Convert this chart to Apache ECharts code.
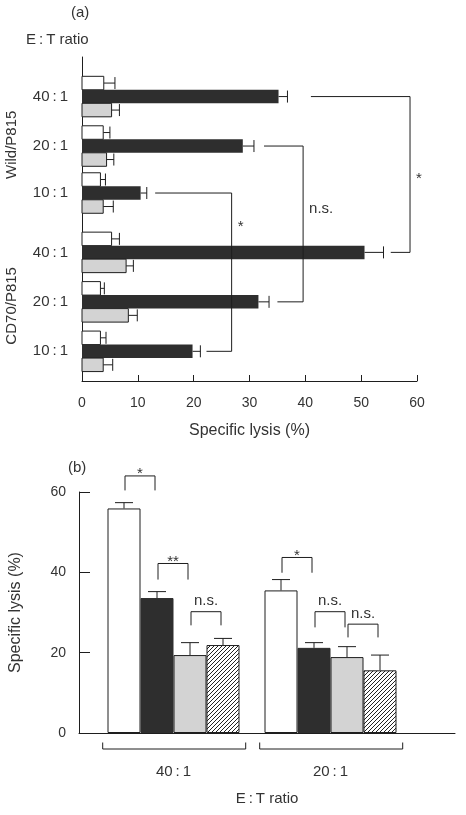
<!DOCTYPE html>
<html><head><meta charset="utf-8">
<script src="https://cdn.jsdelivr.net/npm/echarts@6/dist/echarts.min.js"></script>
<style>html,body{margin:0;padding:0;background:#fff}#c{width:466px;height:815px}</style>
</head><body><div id="c"></div>
<script>
// ---------- Panel (a) data ----------
const rowLabelsA = ['40\u2009:\u20091','20\u2009:\u20091','10\u2009:\u20091','40\u2009:\u20091','20\u2009:\u20091','10\u2009:\u20091'];
const groupNamesA = ['Wild/P815','CD70/P815'];
const whiteA    = [3.9, 3.8, 3.3, 5.3, 3.3, 3.3];
const whiteErrA = [2.0, 1.2, 0.9, 1.4, 0.7, 1.0];
const blackA    = [35.2, 28.8, 10.5, 50.6, 31.6, 19.8];
const blackErrA = [1.6, 2.0, 1.1, 3.4, 1.9, 1.4];
const grayA     = [5.3, 4.4, 3.8, 7.9, 8.3, 3.8];
const grayErrA  = [1.4, 1.3, 1.8, 1.3, 1.6, 1.7];
const xTicksA   = [0, 10, 20, 30, 40, 50, 60];
// significance comparisons in (a): [rowA, rowB], labels
const sigRowsA  = [[0, 3], [1, 4], [2, 5]];
const sigLabelsA = ['*', 'n.s.', '*'];

// ---------- Panel (b) data ----------
const catsB      = ['40\u2009:\u20091', '20\u2009:\u20091'];
const whiteB     = [55.9, 35.5];
const whiteErrB  = [1.45, 2.7];
const blackB     = [33.6, 21.2];
const blackErrB  = [1.6, 1.3];
const grayB      = [19.4, 18.9];
const grayErrB   = [3.1, 2.6];
const hatchB     = [21.9, 15.6];
const hatchErrB  = [1.65, 3.8];
const yTicksB    = [0, 20, 40, 60];
// significance comparisons in (b): [category, barA, barB, label]
const sigB = [[0,0,1,'*'],[0,1,2,'**'],[0,2,3,'n.s.'],[1,0,1,'*'],[1,1,2,'n.s.'],[1,2,3,'n.s.']];

// ---------- layout (not data) ----------
const rowPosA = [0.8, 1.8, 2.75, 3.95, 4.95, 5.95];
const sigLayoutA = [ // [startA, startB, verticalX, labelRow]
  [41.0, 55.3, 58.75, 2.385],
  [32.6, 35.0, 39.6, 3.07],
  [13.1, 22.3, 26.8, 3.35]
];
const sigLayoutB = [ // [top, legBottom]
  [64.0, 60.4],[42.2, 38.2],[30.2, 26.8],[43.7, 39.9],[30.2, 26.3],[27.1, 23.8]
];
const FONT = "'Liberation Sans', Arial, Helvetica, sans-serif";
const TXT = '#333';
const LINE = '#1e1e1e';
const BLACK = '#2e2e2e';
const GRAY = '#d3d3d3';
const BAR_H_A = 13.5;
const BAR_W_B = 33;

// hatch pattern
const hc = document.createElement('canvas'); hc.width = 4; hc.height = 4;
const g = hc.getContext('2d'); g.strokeStyle = '#222'; g.lineWidth = 1;
g.beginPath(); g.moveTo(-1,5); g.lineTo(5,-1); g.moveTo(-1,1); g.lineTo(1,-1); g.moveTo(3,5); g.lineTo(5,3); g.stroke();
const hatchFill = { image: hc, repeat: 'repeat' };

function barsA(vals, errs, offset, fill, stroke) {
  return {
    type: 'custom', xAxisIndex: 0, yAxisIndex: 0, clip: false,
    data: vals.map((v, i) => [v, rowPosA[i], errs[i]]),
    encode: { x: 0, y: 1 },
    renderItem: (params, api) => {
      const v = api.value(0), r = api.value(1), e = api.value(2);
      const p0 = api.coord([0, r]), p1 = api.coord([v, r]), p2 = api.coord([v + e, r]);
      const cy = p0[1] + offset;
      const h = BAR_H_A;
      return { type: 'group', children: [
        { type: 'line', shape: { x1: p1[0], y1: cy, x2: p2[0], y2: cy }, style: { stroke: LINE, lineWidth: 1 } },
        { type: 'line', shape: { x1: p2[0], y1: cy - 6, x2: p2[0], y2: cy + 6 }, style: { stroke: LINE, lineWidth: 1 } },
        { type: 'rect', shape: { x: p0[0], y: cy - h / 2, width: p1[0] - p0[0], height: h },
          style: { fill: fill, stroke: stroke || null, lineWidth: stroke ? 1 : 0 } }
      ]};
    }
  };
}

const series = [
  barsA(whiteA, whiteErrA, -BAR_H_A, '#fff', LINE),
  barsA(blackA, blackErrA, 0, BLACK, null),
  barsA(grayA, grayErrA, BAR_H_A, GRAY, LINE),
  // row labels
  {
    type: 'custom', xAxisIndex: 0, yAxisIndex: 0, clip: false,
    data: rowLabelsA.map((l, i) => [0, rowPosA[i]]),
    encode: { x: 0, y: 1 },
    renderItem: (params, api) => {
      const p = api.coord([0, api.value(1)]);
      return { type: 'text', x: p[0] - 14, y: p[1],
        style: { text: rowLabelsA[params.dataIndex], fontFamily: FONT, fontSize: 15, fill: TXT, align: 'right', verticalAlign: 'middle' } };
    }
  },
  // group labels
  {
    type: 'custom', xAxisIndex: 0, yAxisIndex: 0, clip: false,
    data: groupNamesA.map((n, i) => [0, (rowPosA[i * 3] + rowPosA[i * 3 + 2]) / 2]),
    encode: { x: 0, y: 1 },
    renderItem: (params, api) => {
      const p = api.coord([0, api.value(1)]);
      return { type: 'text', x: 12, y: p[1] + (params.dataIndex ? 4 : 0), rotation: Math.PI / 2,
        style: { text: groupNamesA[params.dataIndex], fontFamily: FONT, fontSize: 15, fill: TXT, align: 'center', verticalAlign: 'middle' } };
    }
  },
  // significance brackets (a)
  {
    type: 'custom', xAxisIndex: 0, yAxisIndex: 0, clip: false,
    data: sigRowsA.map((rr, i) => [sigLayoutA[i][0], rowPosA[rr[0]], sigLayoutA[i][1], rowPosA[rr[1]], sigLayoutA[i][2], sigLayoutA[i][3]]),
    encode: { x: 0, y: 1 },
    renderItem: (params, api) => {
      const a = api.coord([api.value(0), api.value(1)]);
      const b = api.coord([api.value(2), api.value(3)]);
      const vx = api.coord([api.value(4), 0])[0];
      const ly = api.coord([0, api.value(5)])[1];
      const lab = sigLabelsA[params.dataIndex];
      return { type: 'group', children: [
        { type: 'polyline', shape: { points: [[a[0], a[1]], [vx, a[1]], [vx, b[1]], [b[0], b[1]]] }, style: { stroke: LINE, lineWidth: 1, fill: null } },
        { type: 'text', x: vx + 6, y: ly + (lab === '*' ? 4 : 0),
          style: { text: lab, fontFamily: FONT, fontSize: 15, fill: TXT, align: 'left', verticalAlign: 'middle' } }
      ]};
    }
  },
  // ---------- panel (b) bars ----------
  { type: 'bar', name: 'white', xAxisIndex: 2, yAxisIndex: 2, data: whiteB, barWidth: BAR_W_B, barGap: '0%',
    itemStyle: { color: '#fff', borderColor: LINE, borderWidth: 1 } },
  { type: 'bar', name: 'black', xAxisIndex: 2, yAxisIndex: 2, data: blackB, barWidth: BAR_W_B, barGap: '0%',
    itemStyle: { color: BLACK, borderColor: BLACK, borderWidth: 1 } },
  { type: 'bar', name: 'gray', xAxisIndex: 2, yAxisIndex: 2, data: grayB, barWidth: BAR_W_B, barGap: '0%',
    itemStyle: { color: GRAY, borderColor: LINE, borderWidth: 1 } },
  { type: 'bar', name: 'hatched', xAxisIndex: 2, yAxisIndex: 2, data: hatchB, barWidth: BAR_W_B, barGap: '0%',
    itemStyle: { color: hatchFill, borderColor: LINE, borderWidth: 1 } },
  // error bars (b)
  {
    type: 'custom', xAxisIndex: 2, yAxisIndex: 2, clip: false, z: 1,
    data: (function () {
      const out = [];
      [[whiteB, whiteErrB], [blackB, blackErrB], [grayB, grayErrB], [hatchB, hatchErrB]].forEach((pair, s) => {
        pair[0].forEach((v, c) => out.push([c, v, pair[1][c], s]));
      });
      return out;
    })(),
    encode: { x: 0, y: 1 },
    renderItem: (params, api) => {
      const c = api.value(0), v = api.value(1), e = api.value(2), s = api.value(3);
      const p1 = api.coord([c, v]), p2 = api.coord([c, v + e]);
      const x = p1[0] + (s - 1.5) * BAR_W_B;
      return { type: 'group', children: [
        { type: 'line', shape: { x1: x, y1: p1[1], x2: x, y2: p2[1] }, style: { stroke: LINE, lineWidth: 1 } },
        { type: 'line', shape: { x1: x - 9, y1: p2[1], x2: x + 9, y2: p2[1] }, style: { stroke: LINE, lineWidth: 1 } }
      ]};
    }
  },
  // significance brackets (b)
  {
    type: 'custom', xAxisIndex: 2, yAxisIndex: 2, clip: false,
    data: sigB.map((d, i) => [d[0], d[1], d[2], sigLayoutB[i][0], sigLayoutB[i][1]]),
    encode: { x: 0, y: 3 },
    renderItem: (params, api) => {
      const c = api.value(0), a = api.value(1), b = api.value(2);
      const top = api.coord([c, api.value(3)]), leg = api.coord([c, api.value(4)]);
      const xa = top[0] + (a - 1.5) * BAR_W_B + 1;
      const xb = top[0] + (b - 1.5) * BAR_W_B - 2;
      const lab = sigB[params.dataIndex][3];
      const star = lab.indexOf('*') >= 0;
      return { type: 'group', children: [
        { type: 'polyline', shape: { points: [[xa, leg[1]], [xa, top[1]], [xb, top[1]], [xb, leg[1]]] }, style: { stroke: LINE, lineWidth: 1, fill: null } },
        { type: 'text', x: (xa + xb) / 2, y: top[1] - (star ? 2 : 3),
          style: { text: lab, fontFamily: FONT, fontSize: 15, fill: TXT, align: 'center', verticalAlign: star ? 'middle' : 'bottom' } }
      ]};
    }
  },
  // group brackets under x axis (b)
  {
    type: 'custom', xAxisIndex: 2, yAxisIndex: 2, clip: false,
    data: catsB.map((c, i) => [i, 0]),
    encode: { x: 0, y: 1 },
    renderItem: (params, api) => {
      const p = api.coord([api.value(0), 0]);
      const cx = p[0] + 0.7, y0 = p[1] + 9.5, y1 = p[1] + 16;
      return { type: 'polyline', shape: { points: [[cx - 71.5, y0], [cx - 71.5, y1], [cx + 71.5, y1], [cx + 71.5, y0]] },
        style: { stroke: LINE, lineWidth: 1, fill: null } };
    }
  }
];

const chart = echarts.init(document.getElementById('c'), null, { renderer: 'canvas' });
chart.setOption({
  animation: false,
  backgroundColor: '#fff',
  textStyle: { fontFamily: FONT, color: TXT },
  grid: [
    { left: 82, top: 57, width: 335, height: 324 },
    { left: 75, right: 11, top: 492, bottom: 82 },
    { left: 95, width: 314, top: 492, bottom: 82 }
  ],
  xAxis: [
    { gridIndex: 0, type: 'value', position: 'bottom', min: xTicksA[0], max: xTicksA[xTicksA.length - 1], interval: xTicksA[1] - xTicksA[0],
      axisLine: { show: true, onZero: false, lineStyle: { color: LINE, width: 1 } },
      axisTick: { show: true, inside: true, length: 6, lineStyle: { color: LINE } },
      axisLabel: { fontSize: 14, color: TXT, margin: 15, fontFamily: FONT },
      splitLine: { show: false },
      name: 'Specific lysis (%)', nameLocation: 'middle', nameGap: 42,
      nameTextStyle: { fontSize: 16, color: TXT, fontFamily: FONT } },
    { gridIndex: 1, type: 'value', position: 'bottom', min: 0, max: 1,
      axisLine: { show: true, onZero: false, lineStyle: { color: LINE, width: 1 } },
      axisTick: { show: false }, axisLabel: { show: false }, splitLine: { show: false },
      name: 'E\u2009:\u2009T ratio', nameLocation: 'middle', nameGap: 58,
      nameTextStyle: { fontSize: 15, color: TXT, fontFamily: FONT } },
    { gridIndex: 2, type: 'category', position: 'bottom', data: catsB,
      axisLine: { show: false, onZero: false }, axisTick: { show: false },
      axisLabel: { fontSize: 15, color: TXT, margin: 31, fontFamily: FONT } }
  ],
  yAxis: [
    { gridIndex: 0, type: 'value', position: 'left', inverse: true, min: 0, max: 6.55,
      axisLine: { show: true, onZero: false, lineStyle: { color: LINE, width: 1 } },
      axisTick: { show: false }, axisLabel: { show: false }, splitLine: { show: false } },
    { gridIndex: 1, type: 'value', position: 'left', min: yTicksB[0], max: yTicksB[yTicksB.length - 1], interval: yTicksB[1] - yTicksB[0],
      axisLine: { show: true, onZero: false, lineStyle: { color: LINE, width: 1 } },
      axisTick: { show: true, inside: true, length: 11, lineStyle: { color: LINE } },
      axisLabel: { fontSize: 14, color: TXT, margin: 13, fontFamily: FONT },
      splitLine: { show: false },
      name: 'Specific lysis (%)', nameLocation: 'middle', nameGap: 55, nameRotate: 90,
      nameTextStyle: { fontSize: 16, color: TXT, fontFamily: FONT } },
    { gridIndex: 2, type: 'value', min: 0, max: 60, show: false }
  ],
  graphic: [
    { type: 'text', left: 71, top: 5, style: { text: '(a)', fontSize: 15, fontFamily: FONT, fill: TXT } },
    { type: 'text', left: 26, top: 32, style: { text: 'E\u2009:\u2009T ratio', fontSize: 15, fontFamily: FONT, fill: TXT } },
    { type: 'text', left: 68, top: 460, style: { text: '(b)', fontSize: 15, fontFamily: FONT, fill: TXT } }
  ],
  series: series
});
</script>
</body></html>
